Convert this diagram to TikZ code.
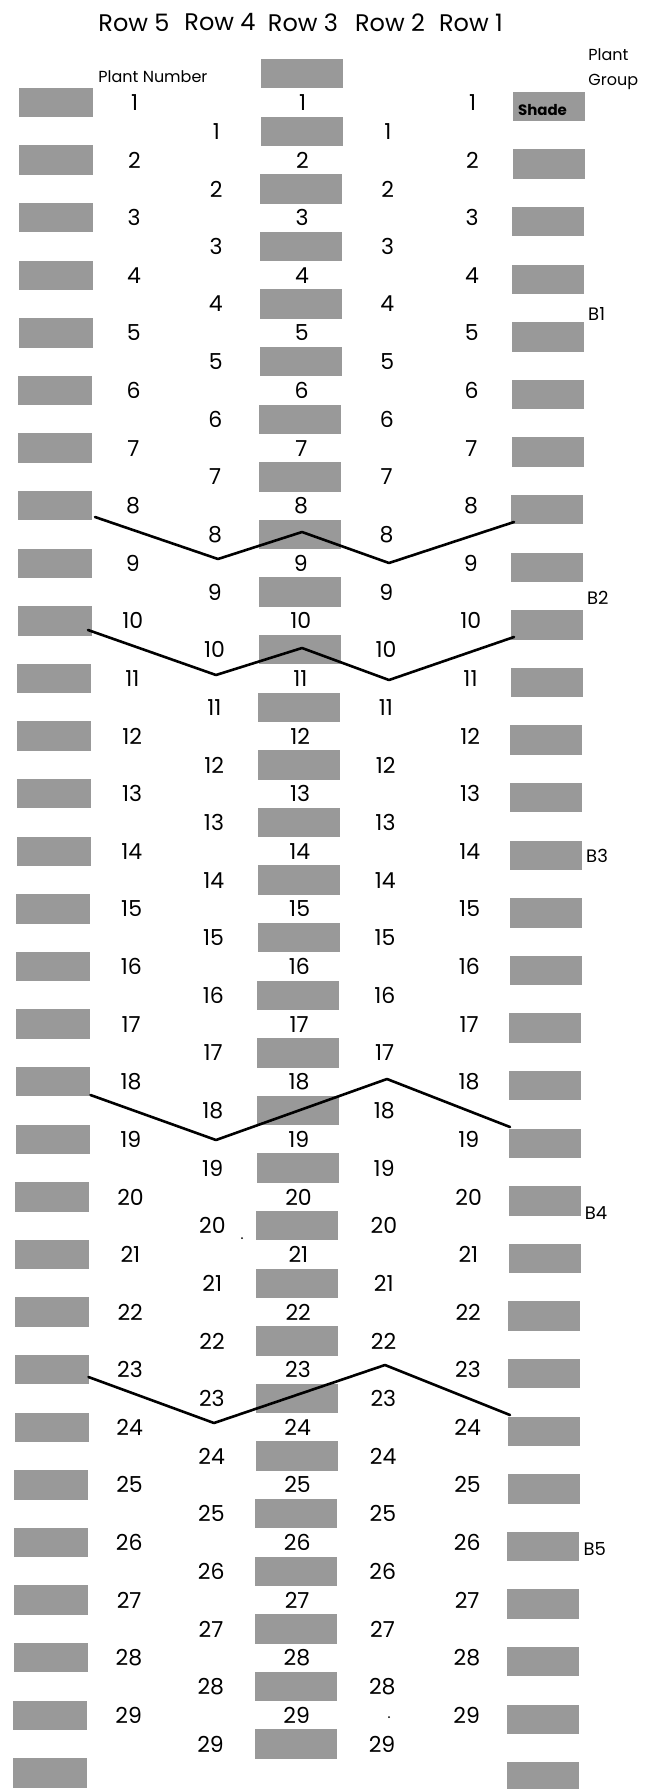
\documentclass[tikz,border=0pt]{standalone}
\usepackage{fontspec}
\setmainfont{Poppins}
\begin{document}
\begin{tikzpicture}[x=0.5pt,y=-0.5pt,
  shadebox/.style={fill=black!40, inner sep=0pt, minimum height=14.75pt},
  lbox/.style={shadebox, minimum width=37pt},
  cbox/.style={shadebox, minimum width=41pt},
  rbox/.style={shadebox, minimum width=36pt},
  num/.style={font=\fontsize{11}{11}\selectfont, inner sep=0pt},
  hdr/.style={font=\fontsize{12}{12}\selectfont, inner sep=0pt},
  lbl/.style={font=\fontsize{8}{8}\selectfont, inner sep=0pt, anchor=base west},
  grp/.style={font=\fontsize{9}{9}\selectfont, inner sep=0pt, anchor=west},
  bline/.style={line width=1.3pt, line join=round, line cap=round}]
\useasboundingbox (0,0) rectangle (645,1789);
% header
\node[hdr] (h5) at (134,22.5) {Row 5};
\node[hdr] (h4) at (220,22.5) {Row 4};
\node[hdr] (h3) at (303,22.5) {Row 3};
\node[hdr] (h2) at (390,22.5) {Row 2};
\node[hdr] (h1) at (471,22.5) {Row 1};
\node[lbl] (pn) at (98,82) {Plant Number};
\node[lbl] (pg1) at (588,60) {Plant};
\node[lbl] (pg2) at (588,85) {Group};
\begin{scope}[xslant=0.0037]
  \foreach \k in {1,...,30} {
    \pgfmathsetmacro\ya{102.5+57.6*(\k-1)}
    \node[lbox] (l-\k) at (56.8,\ya) {};
    \node[rbox] (r-\k) at (549.2,\ya+4) {};
  }
  \foreach \k in {0,...,29} {
    \pgfmathsetmacro\yc{73.7+57.6*\k}
    \node[cbox] (c-\k) at (302,\yc) {};
  }
  \foreach \k in {1,...,29} {
    \pgfmathsetmacro\ya{102.5+57.6*(\k-1)}
    \pgfmathsetmacro\yb{\ya+28.8}
    \node[num] (n5-\k) at (135,\ya) {\k};
    \node[num] (n3-\k) at (303,\ya) {\k};
    \node[num] (n1-\k) at (473,\ya) {\k};
    \node[num] (n4-\k) at (217,\yb) {\k};
    \node[num] (n2-\k) at (388.5,\yb) {\k};
  }
  \node[grp] (b1) at (589,313.5) {B1};
  \node[grp] (b2) at (589,598) {B2};
  \node[grp] (b3) at (589,856) {B3};
  \node[grp] (b4) at (589,1213) {B4};
  \node[grp] (b5) at (589,1549) {B5};
\end{scope}
\node[font=\bfseries\fontsize{7.5}{7.5}\selectfont, inner sep=0pt] (shade) at (542.5,110) {Shade};
% boundary lines
\coordinate (a1) at (95,517);  \coordinate (a2) at (218,559); \coordinate (a3) at (302,532);
\coordinate (a4) at (389,563); \coordinate (a5) at (514,522);
\coordinate (b1s) at (88,630); \coordinate (b2s) at (216,675); \coordinate (b3s) at (302,648);
\coordinate (b4s) at (389,680); \coordinate (b5s) at (514,637);
\coordinate (c1) at (90.5,1095); \coordinate (c2) at (216,1140); \coordinate (c3) at (387,1079);
\coordinate (c4) at (510,1127);
\coordinate (d1) at (88.5,1377); \coordinate (d2) at (214,1423); \coordinate (d3) at (385,1365);
\coordinate (d4) at (510,1415);
\draw[bline] (a1) -- (a2) -- (a3) -- (a4) -- (a5);
\draw[bline] (b1s) -- (b2s) -- (b3s) -- (b4s) -- (b5s);
\draw[bline] (c1) -- (c2) -- (c3) -- (c4);
\draw[bline] (d1) -- (d2) -- (d3) -- (d4);
\fill (242,1238) circle (1);
\fill (389,1717) circle (1);
\end{tikzpicture}
\end{document}
